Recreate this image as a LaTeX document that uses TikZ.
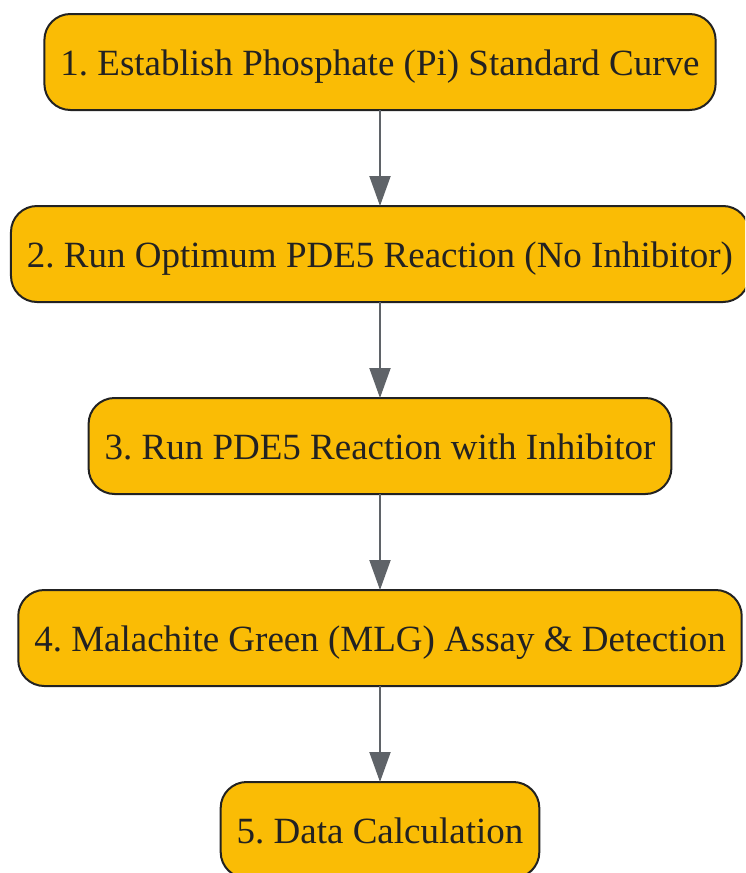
\documentclass[tikz,border=0pt]{standalone}
\usepackage{fontspec}
\setmainfont{Liberation Serif}
\usetikzlibrary{positioning,arrows.meta}
\definecolor{boxfill}{RGB}{250,188,5}
\definecolor{boxline}{RGB}{34,34,34}
\definecolor{arrowgray}{RGB}{95,99,104}
\tikzset{
  stepbox/.style={draw=boxline,fill=boxfill,line width=2pt,rounded corners=26pt,outer sep=0pt,
    minimum height=96pt,inner xsep=16pt,text height=30pt,text depth=4pt,
    font=\frenchspacing\fontsize{37}{40}\selectfont,text=boxline},
  flow/.style={draw=arrowgray,line width=2pt,-{Triangle[width=21pt,length=30pt]}}
}
\begin{document}
\begin{tikzpicture}[x=1pt,y=-1pt,node distance=96pt]
\useasboundingbox (0,0) rectangle (745,873);
\clip (0,0) rectangle (745,873);
\node[stepbox] (s1) at (380,62) {1. Establish Phosphate (Pi) Standard Curve};
\node[stepbox,below=of s1] (s2) {2. Run Optimum PDE5 Reaction (No Inhibitor)};
\node[stepbox,below=of s2] (s3) {3. Run PDE5 Reaction with Inhibitor};
\node[stepbox,below=of s3] (s4) {4. Malachite Green (MLG) Assay \& Detection};
\node[stepbox,below=of s4] (s5) {5. Data Calculation};
\foreach \a/\b in {s1/s2,s2/s3,s3/s4,s4/s5}{\draw[flow](\a)--(\b);}
\end{tikzpicture}
\end{document}
